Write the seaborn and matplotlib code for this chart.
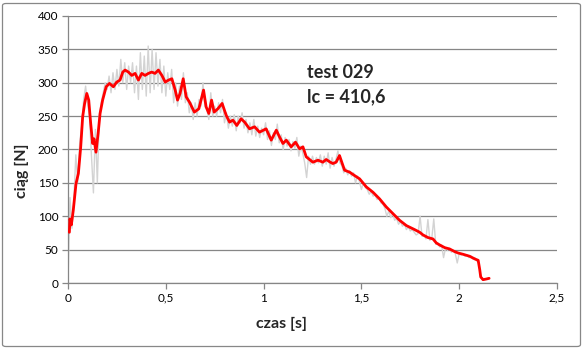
import numpy as np
import pandas as pd
import matplotlib
matplotlib.use("Agg")
import matplotlib.pyplot as plt
import seaborn as sns
from matplotlib.ticker import FuncFormatter
from matplotlib.patches import FancyBboxPatch

# smoothed thrust (red)
red_t = [0.007, 0.010, 0.017, 0.027, 0.041, 0.053, 0.065, 0.075, 0.085, 0.096,
         0.106, 0.116, 0.126, 0.133, 0.143, 0.154, 0.164, 0.177, 0.195, 0.212,
         0.232, 0.249, 0.266, 0.280, 0.292, 0.309, 0.326, 0.343, 0.360, 0.377,
         0.394, 0.411, 0.428, 0.445, 0.462, 0.480, 0.497, 0.514, 0.531, 0.548,
         0.560, 0.573, 0.589, 0.604, 0.621, 0.646, 0.669, 0.693, 0.706, 0.720,
         0.734, 0.747, 0.766, 0.788, 0.809, 0.826, 0.843, 0.863, 0.885, 0.903,
         0.928, 0.954, 0.979, 1.013, 1.039, 1.065, 1.081, 1.099, 1.116, 1.141,
         1.163, 1.184, 1.201, 1.218, 1.235, 1.252, 1.278, 1.303, 1.320, 1.341,
         1.354, 1.371, 1.388, 1.402, 1.414, 1.440, 1.465, 1.491, 1.525, 1.559,
         1.593, 1.627, 1.661, 1.695, 1.730, 1.772, 1.798, 1.815, 1.841, 1.866,
         1.883, 1.900, 1.926, 1.951, 1.977, 1.994, 2.020, 2.054, 2.080, 2.097,
         2.105, 2.110, 2.122, 2.139, 2.153]
red_v = [76, 96, 87, 109, 149, 164, 204, 249, 269, 284,
         274, 239, 209, 216, 196, 224, 254, 274, 294, 299,
         294, 301, 304, 316, 319, 316, 311, 314, 304, 314,
         311, 314, 316, 314, 319, 311, 301, 304, 306, 289,
         274, 284, 306, 279, 271, 256, 261, 289, 264, 254,
         274, 256, 261, 269, 251, 241, 244, 236, 246, 241,
         231, 234, 226, 231, 214, 229, 219, 209, 214, 204,
         211, 201, 204, 189, 185, 181, 184, 181, 185, 181,
         179, 181, 191, 179, 169, 166, 161, 156, 144, 136,
         126, 114, 104, 94, 86, 80, 76, 72, 68, 66,
         60, 57, 53, 51, 47, 45, 43, 40, 36, 34,
         20, 9, 5, 6, 7]

# raw thrust (grey), sampled every 0.01 s
raw_v = [0, 128, 82, 125, 192, 150, 210, 235, 275, 295,
         268, 250, 190, 135, 230, 150, 250, 270, 285, 300,
         290, 310, 285, 315, 290, 320, 295, 335, 300, 330,
         290, 325, 300, 330, 285, 325, 275, 345, 290, 340,
         280, 355, 285, 350, 290, 345, 295, 335, 285, 325,
         280, 315, 290, 320, 270, 300, 265, 295, 275, 315,
         270, 285, 255, 270, 245, 270, 250, 275, 265, 300,
         265, 260, 245, 285, 250, 265, 250, 270, 255, 275,
         240, 255, 232, 250, 235, 252, 228, 250, 240, 255,
         232, 245, 225, 240, 222, 245, 220, 235, 218, 232,
         222, 240, 215, 228, 206, 225, 215, 238, 210, 222,
         200, 218, 205, 215, 198, 212, 202, 218, 190, 205,
         195, 180, 158, 190, 178, 190, 178, 188, 180, 192,
         175, 190, 178, 195, 172, 188, 175, 185, 198, 180,
         176, 165, 172, 162, 168, 160, 165, 150, 160, 152,
         140, 150, 143, 140, 133, 137, 130, 132, 125, 128,
         120, 118, 112, 100, 108, 98, 104, 94, 97, 88,
         92, 85, 88, 80, 84, 78, 80, 76, 72, 74,
         100, 70, 72, 66, 95, 64, 67, 96, 58, 60,
         54, 57, 38, 52, 49, 52, 46, 49, 44, 30,
         44, 42, 44, 40, 42, 38, 40, 36, 38, 33,
         30, 10, 4, 5, 6, 7]
raw_dt = 0.01

x_ticks = [0, 0.5, 1, 1.5, 2, 2.5]
y_ticks = [0, 50, 100, 150, 200, 250, 300, 350, 400]
annot_lines = ["test 029", "lc = 410,6"]

raw_df = pd.DataFrame({"t": np.arange(len(raw_v)) * raw_dt, "v": raw_v})
red_df = pd.DataFrame({"t": red_t, "v": red_v})

sns.set_style("white")
plt.rcParams["font.family"] = ["Lato", "DejaVu Sans"]

fig = plt.figure(figsize=(5.84, 3.49), dpi=100)
ax = fig.add_axes([68 / 584, 66 / 349, 489 / 584, 267 / 349])

grid_c = "#868686"
sns.lineplot(data=raw_df, x="t", y="v", ax=ax, color="#d3d3d3", lw=1.0,
             estimator=None, sort=False, zorder=2)
sns.lineplot(data=red_df, x="t", y="v", ax=ax, color="#ff0000", lw=2.0,
             estimator=None, sort=False, zorder=3)

ax.set_xlim(0, 2.5)
ax.set_ylim(0, 400)
ax.set_xticks(x_ticks)
ax.set_yticks(y_ticks)
ax.xaxis.set_major_formatter(FuncFormatter(lambda v, p: f"{v:g}".replace(".", ",")))
ax.yaxis.grid(True, color=grid_c, lw=0.9)
ax.xaxis.grid(False)
ax.set_axisbelow(True)
for s in ["top", "right"]:
    ax.spines[s].set_visible(False)
for s in ["left", "bottom"]:
    ax.spines[s].set_color(grid_c)
    ax.spines[s].set_linewidth(0.9)
ax.tick_params(axis="both", direction="out", length=4, width=0.9, color=grid_c,
               labelsize=8.5, labelcolor="black", pad=3, left=True, bottom=True)

ax.set_xlabel("czas [s]", fontsize=11.5, fontweight="bold")
ax.set_ylabel("ciąg [N]", fontsize=11.5, fontweight="bold")
ax.xaxis.set_label_coords((281 - 68) / 489, (283 - 317) / 267)
ax.yaxis.set_label_coords((29 - 68) / 489, (283 - 171) / 267)

ax.text(1.22, 316, annot_lines[0], fontsize=13, fontweight="bold", va="center", ha="left")
ax.text(1.22, 279, annot_lines[1], fontsize=13, fontweight="bold", va="center", ha="left")

border = FancyBboxPatch((2.5 / 584, 2.5 / 349), 578 / 584, 343 / 349,
                        boxstyle="round,pad=0,rounding_size=0.006",
                        transform=fig.transFigure, fill=False,
                        edgecolor="#878787", lw=0.9)
fig.patches.append(border)

fig.savefig("out.png", dpi=100)
